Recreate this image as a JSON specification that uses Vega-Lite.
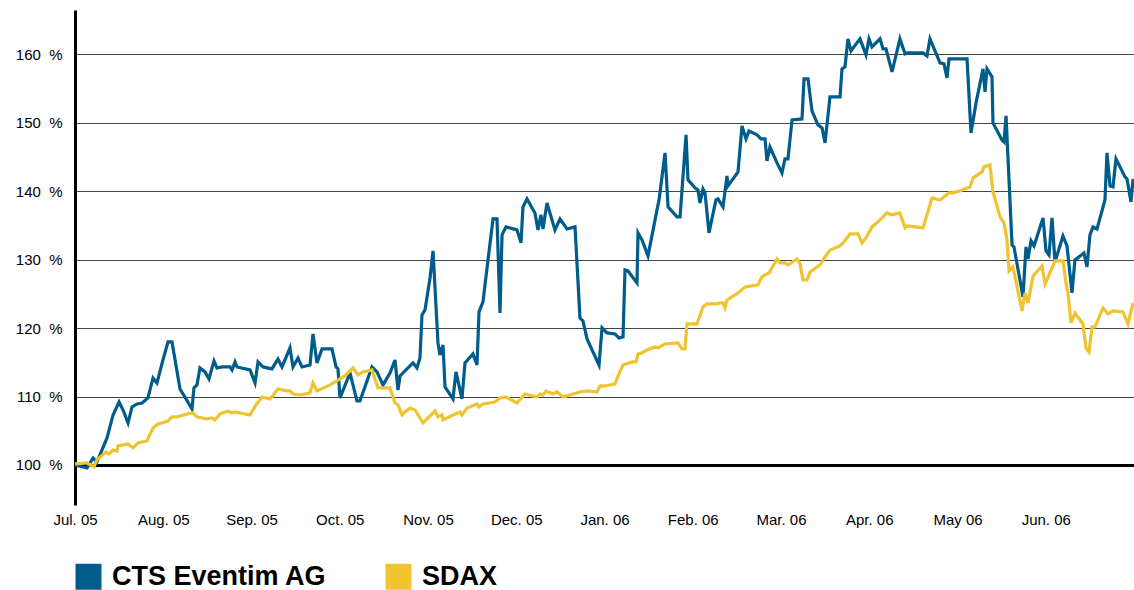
{
 "$schema": "https://vega.github.io/schema/vega-lite/v6.json",
 "width": 1059, "height": 495,
 "autosize": {"type": "none"},
 "padding": {"left": 75, "top": 10, "right": 0, "bottom": 85},
 "background": "white",
 "config": {"view": {"stroke": null}, "font": "Liberation Sans"},
 "encoding": {
  "x": {"field": "t", "type": "quantitative", "scale": {"domain": [0, 12], "nice": false, "zero": false},
   "axis": {"values": [0,1,2,3,4,5,6,7,8,9,10,11], "labelExpr": "['Jul. 05','Aug. 05','Sep. 05','Oct. 05','Nov. 05','Dec. 05','Jan. 06','Feb. 06','Mar. 06','Apr. 06','May 06','Jun. 06'][datum.value]", "domain": false, "ticks": false, "grid": false, "title": null, "labelFontSize": 15, "labelPadding": 7, "labelDx": 9, "labelColor": "#000", "labelFlush": false, "labelOverlap": false, "labelFont": "Liberation Sans"}},
  "y": {"field": "v", "type": "quantitative", "scale": {"domain": [94.15, 166.5], "nice": false, "zero": false},
   "axis": {"values": [100,110,120,130,140,150,160], "labelExpr": "datum.value + '\u00a0\u00a0%'", "title": null, "ticks": false, "domain": true, "domainColor": "#000", "domainWidth": 3, "grid": true, "gridColor": {"condition": {"test": "datum.value === 100", "value": "#000"}, "value": "#444"}, "gridWidth": {"condition": {"test": "datum.value === 100", "value": 3}, "value": 1}, "labelFontSize": 15, "labelColor": "#000", "labelPadding": 13, "labelFont": "Liberation Sans"}}
 },
 "layer": [
  {"data": {"values": [
{"t":0,"v":100},{"t":0.136,"v":99.56},{"t":0.204,"v":101.02},{"t":0.249,"v":100.44},{"t":0.363,"v":103.95},{"t":0.431,"v":107.31},{"t":0.499,"v":109.21},{"t":0.544,"v":108.04},{"t":0.601,"v":106.14},{"t":0.646,"v":108.48},{"t":0.703,"v":108.92},{"t":0.76,"v":109.06},{"t":0.827,"v":109.8},{"t":0.884,"v":112.72},{"t":0.929,"v":111.99},{"t":0.997,"v":115.35},{"t":1.054,"v":117.98},{"t":1.099,"v":117.98},{"t":1.19,"v":111.11},{"t":1.326,"v":108.19},{"t":1.348,"v":111.26},{"t":1.382,"v":111.7},{"t":1.416,"v":114.18},{"t":1.473,"v":113.6},{"t":1.518,"v":112.57},{"t":1.575,"v":115.2},{"t":1.609,"v":114.18},{"t":1.666,"v":114.33},{"t":1.756,"v":114.33},{"t":1.779,"v":113.89},{"t":1.813,"v":115.06},{"t":1.836,"v":114.33},{"t":1.983,"v":113.89},{"t":2.04,"v":111.99},{"t":2.074,"v":115.06},{"t":2.13,"v":114.33},{"t":2.232,"v":114.04},{"t":2.3,"v":115.5},{"t":2.346,"v":114.33},{"t":2.436,"v":117.11},{"t":2.47,"v":114.33},{"t":2.527,"v":115.64},{"t":2.572,"v":114.33},{"t":2.663,"v":114.62},{"t":2.697,"v":119.15},{"t":2.742,"v":114.91},{"t":2.799,"v":116.96},{"t":2.912,"v":116.96},{"t":2.958,"v":114.33},{"t":2.98,"v":114.04},{"t":3.003,"v":109.8},{"t":3.116,"v":113.45},{"t":3.195,"v":109.36},{"t":3.229,"v":109.36},{"t":3.365,"v":114.33},{"t":3.422,"v":113.6},{"t":3.49,"v":111.7},{"t":3.569,"v":113.45},{"t":3.626,"v":115.35},{"t":3.66,"v":110.96},{"t":3.683,"v":113.01},{"t":3.83,"v":114.91},{"t":3.875,"v":114.18},{"t":3.909,"v":115.64},{"t":3.932,"v":121.93},{"t":3.966,"v":122.66},{"t":4.023,"v":127.34},{"t":4.057,"v":131.29},{"t":4.113,"v":117.84},{"t":4.136,"v":116.08},{"t":4.17,"v":117.54},{"t":4.193,"v":111.4},{"t":4.283,"v":109.65},{"t":4.317,"v":113.6},{"t":4.385,"v":109.65},{"t":4.419,"v":114.91},{"t":4.51,"v":116.23},{"t":4.555,"v":114.62},{"t":4.578,"v":122.37},{"t":4.623,"v":123.83},{"t":4.68,"v":129.97},{"t":4.737,"v":135.96},{"t":4.782,"v":135.96},{"t":4.816,"v":122.22},{"t":4.839,"v":133.63},{"t":4.884,"v":134.8},{"t":5.008,"v":134.36},{"t":5.054,"v":132.46},{"t":5.076,"v":137.72},{"t":5.122,"v":138.89},{"t":5.212,"v":136.84},{"t":5.246,"v":134.36},{"t":5.28,"v":136.55},{"t":5.303,"v":134.5},{"t":5.348,"v":138.3},{"t":5.439,"v":134.36},{"t":5.496,"v":135.96},{"t":5.575,"v":134.5},{"t":5.666,"v":134.8},{"t":5.722,"v":121.49},{"t":5.756,"v":121.05},{"t":5.802,"v":118.42},{"t":5.938,"v":114.62},{"t":5.972,"v":120.03},{"t":6.028,"v":119.3},{"t":6.119,"v":119.15},{"t":6.164,"v":118.57},{"t":6.21,"v":118.71},{"t":6.232,"v":128.51},{"t":6.266,"v":128.36},{"t":6.368,"v":126.61},{"t":6.38,"v":133.92},{"t":6.425,"v":132.89},{"t":6.493,"v":130.56},{"t":6.595,"v":137.28},{"t":6.618,"v":138.74},{"t":6.686,"v":145.61},{"t":6.72,"v":137.72},{"t":6.822,"v":136.26},{"t":6.856,"v":136.26},{"t":6.924,"v":148.25},{"t":6.946,"v":141.67},{"t":7.025,"v":140.5},{"t":7.059,"v":140.2},{"t":7.082,"v":138.3},{"t":7.116,"v":140.35},{"t":7.139,"v":139.77},{"t":7.184,"v":133.92},{"t":7.263,"v":138.74},{"t":7.286,"v":138.89},{"t":7.343,"v":137.72},{"t":7.388,"v":142.25},{"t":7.399,"v":140.79},{"t":7.513,"v":142.84},{"t":7.558,"v":149.56},{"t":7.603,"v":147.66},{"t":7.637,"v":148.83},{"t":7.728,"v":148.25},{"t":7.773,"v":147.66},{"t":7.819,"v":147.66},{"t":7.841,"v":144.44},{"t":7.875,"v":146.49},{"t":7.955,"v":144.15},{"t":8.011,"v":142.69},{"t":8.045,"v":144.74},{"t":8.079,"v":144.74},{"t":8.125,"v":150.44},{"t":8.238,"v":150.58},{"t":8.261,"v":156.43},{"t":8.306,"v":156.43},{"t":8.351,"v":151.75},{"t":8.419,"v":149.71},{"t":8.465,"v":149.27},{"t":8.499,"v":147.08},{"t":8.555,"v":153.8},{"t":8.669,"v":153.8},{"t":8.691,"v":157.89},{"t":8.725,"v":158.19},{"t":8.759,"v":162.28},{"t":8.793,"v":160.53},{"t":8.895,"v":162.28},{"t":8.963,"v":159.94},{"t":8.997,"v":162.28},{"t":9.031,"v":161.11},{"t":9.122,"v":162.28},{"t":9.156,"v":160.82},{"t":9.19,"v":160.82},{"t":9.258,"v":157.46},{"t":9.348,"v":162.28},{"t":9.405,"v":160.09},{"t":9.428,"v":160.23},{"t":9.609,"v":160.23},{"t":9.654,"v":159.8},{"t":9.688,"v":162.28},{"t":9.802,"v":158.77},{"t":9.847,"v":158.63},{"t":9.881,"v":156.58},{"t":9.904,"v":159.36},{"t":10.108,"v":159.36},{"t":10.153,"v":148.54},{"t":10.21,"v":152.92},{"t":10.289,"v":157.89},{"t":10.312,"v":154.53},{"t":10.334,"v":157.89},{"t":10.391,"v":156.73},{"t":10.402,"v":150},{"t":10.504,"v":147.51},{"t":10.527,"v":147.22},{"t":10.55,"v":151.02},{"t":10.618,"v":132.16},{"t":10.64,"v":131.87},{"t":10.742,"v":124.56},{"t":10.776,"v":131.87},{"t":10.799,"v":130.12},{"t":10.833,"v":132.75},{"t":10.867,"v":132.02},{"t":10.969,"v":136.11},{"t":11.003,"v":131.29},{"t":11.037,"v":130.7},{"t":11.071,"v":136.11},{"t":11.105,"v":129.68},{"t":11.195,"v":133.48},{"t":11.241,"v":132.02},{"t":11.297,"v":125.15},{"t":11.331,"v":129.97},{"t":11.433,"v":130.99},{"t":11.467,"v":128.95},{"t":11.501,"v":133.63},{"t":11.535,"v":134.8},{"t":11.581,"v":134.5},{"t":11.671,"v":138.74},{"t":11.694,"v":145.61},{"t":11.728,"v":140.79},{"t":11.762,"v":140.64},{"t":11.796,"v":144.74},{"t":11.898,"v":142.11},{"t":11.921,"v":141.81},{"t":11.966,"v":138.45},{"t":11.989,"v":141.81}
  ]},
   "mark": {"type": "line", "strokeWidth": 3.2},
   "encoding": {"color": {"datum": "CTS Eventim AG", "type": "nominal",
    "scale": {"domain": ["CTS Eventim AG", "SDAX"], "range": ["#005c8a", "#f0c330"]},
    "legend": {"orient": "none", "legendX": 0, "legendY": 553, "direction": "horizontal", "title": null, "symbolType": "square", "symbolSize": 676, "symbolStrokeWidth": 0, "labelFontSize": 27, "labelFontWeight": "bold", "labelFont": "Liberation Sans", "labelColor": "#000", "labelOffset": 10, "columnPadding": 58, "labelLimit": 400,
     "encode": {"symbols": {"update": {"fill": {"scale": "color", "field": "value"}, "opacity": {"value": 1}}}}}}}
  },
  {"data": {"values": [
{"t":0,"v":100.15},{"t":0.136,"v":100.29},{"t":0.215,"v":99.71},{"t":0.249,"v":100.73},{"t":0.351,"v":101.9},{"t":0.385,"v":101.61},{"t":0.431,"v":102.19},{"t":0.476,"v":102.05},{"t":0.487,"v":102.78},{"t":0.601,"v":103.07},{"t":0.657,"v":102.49},{"t":0.714,"v":103.22},{"t":0.816,"v":103.51},{"t":0.884,"v":105.41},{"t":0.941,"v":105.99},{"t":1.054,"v":106.43},{"t":1.099,"v":107.02},{"t":1.156,"v":107.02},{"t":1.19,"v":107.16},{"t":1.28,"v":107.46},{"t":1.337,"v":107.6},{"t":1.382,"v":107.02},{"t":1.496,"v":106.73},{"t":1.552,"v":106.87},{"t":1.586,"v":106.58},{"t":1.643,"v":107.46},{"t":1.734,"v":107.89},{"t":1.779,"v":107.6},{"t":1.813,"v":107.75},{"t":1.983,"v":107.31},{"t":2.051,"v":108.77},{"t":2.119,"v":109.94},{"t":2.21,"v":109.65},{"t":2.3,"v":111.11},{"t":2.402,"v":110.82},{"t":2.436,"v":110.82},{"t":2.47,"v":110.38},{"t":2.55,"v":110.23},{"t":2.663,"v":110.53},{"t":2.697,"v":111.99},{"t":2.742,"v":110.82},{"t":2.89,"v":111.7},{"t":2.946,"v":112.13},{"t":3.059,"v":113.01},{"t":3.15,"v":114.18},{"t":3.207,"v":113.16},{"t":3.263,"v":113.6},{"t":3.365,"v":113.89},{"t":3.433,"v":111.26},{"t":3.479,"v":111.26},{"t":3.569,"v":111.26},{"t":3.626,"v":109.06},{"t":3.66,"v":108.77},{"t":3.705,"v":107.31},{"t":3.739,"v":107.75},{"t":3.796,"v":108.33},{"t":3.853,"v":108.04},{"t":3.943,"v":106.14},{"t":4.079,"v":107.89},{"t":4.113,"v":107.02},{"t":4.159,"v":107.31},{"t":4.17,"v":106.58},{"t":4.283,"v":107.31},{"t":4.363,"v":107.75},{"t":4.385,"v":107.31},{"t":4.442,"v":108.33},{"t":4.555,"v":108.92},{"t":4.578,"v":108.48},{"t":4.623,"v":108.92},{"t":4.759,"v":109.21},{"t":4.816,"v":109.8},{"t":4.884,"v":109.94},{"t":5.008,"v":109.06},{"t":5.099,"v":110.38},{"t":5.235,"v":109.94},{"t":5.269,"v":110.38},{"t":5.303,"v":110.23},{"t":5.337,"v":110.82},{"t":5.416,"v":110.38},{"t":5.462,"v":110.67},{"t":5.53,"v":109.94},{"t":5.643,"v":110.38},{"t":5.722,"v":110.67},{"t":5.802,"v":110.82},{"t":5.915,"v":110.67},{"t":5.949,"v":111.55},{"t":6.006,"v":111.55},{"t":6.119,"v":111.84},{"t":6.153,"v":113.01},{"t":6.21,"v":114.62},{"t":6.312,"v":115.06},{"t":6.357,"v":115.06},{"t":6.38,"v":116.23},{"t":6.425,"v":116.37},{"t":6.482,"v":116.81},{"t":6.572,"v":117.25},{"t":6.606,"v":117.11},{"t":6.686,"v":117.69},{"t":6.833,"v":117.84},{"t":6.878,"v":116.96},{"t":6.912,"v":116.96},{"t":6.935,"v":120.61},{"t":7.048,"v":120.61},{"t":7.116,"v":123.1},{"t":7.161,"v":123.54},{"t":7.275,"v":123.54},{"t":7.309,"v":123.68},{"t":7.343,"v":123.68},{"t":7.365,"v":122.95},{"t":7.388,"v":124.12},{"t":7.479,"v":124.85},{"t":7.513,"v":125.15},{"t":7.592,"v":126.02},{"t":7.739,"v":126.32},{"t":7.785,"v":127.49},{"t":7.819,"v":127.78},{"t":7.864,"v":128.07},{"t":7.955,"v":130.12},{"t":7.989,"v":129.53},{"t":8.045,"v":129.53},{"t":8.079,"v":129.24},{"t":8.181,"v":130.12},{"t":8.215,"v":129.39},{"t":8.249,"v":127.05},{"t":8.295,"v":127.05},{"t":8.329,"v":128.22},{"t":8.442,"v":129.24},{"t":8.499,"v":130.41},{"t":8.555,"v":131.43},{"t":8.669,"v":132.02},{"t":8.703,"v":132.46},{"t":8.782,"v":133.77},{"t":8.873,"v":133.77},{"t":8.918,"v":132.46},{"t":8.963,"v":133.19},{"t":9.031,"v":134.8},{"t":9.099,"v":135.53},{"t":9.201,"v":136.84},{"t":9.258,"v":136.55},{"t":9.348,"v":136.84},{"t":9.405,"v":134.65},{"t":9.428,"v":134.94},{"t":9.609,"v":134.65},{"t":9.711,"v":139.04},{"t":9.802,"v":138.74},{"t":9.904,"v":139.77},{"t":9.949,"v":139.77},{"t":10.028,"v":140.06},{"t":10.108,"v":140.5},{"t":10.142,"v":140.64},{"t":10.176,"v":141.96},{"t":10.278,"v":142.84},{"t":10.3,"v":143.57},{"t":10.368,"v":143.86},{"t":10.402,"v":139.91},{"t":10.482,"v":136.26},{"t":10.527,"v":135.38},{"t":10.561,"v":132.89},{"t":10.584,"v":128.36},{"t":10.629,"v":128.95},{"t":10.731,"v":122.51},{"t":10.765,"v":125.15},{"t":10.799,"v":123.68},{"t":10.856,"v":127.63},{"t":10.958,"v":129.09},{"t":10.992,"v":126.46},{"t":11.082,"v":129.09},{"t":11.105,"v":129.82},{"t":11.195,"v":129.82},{"t":11.229,"v":126.61},{"t":11.252,"v":125.15},{"t":11.286,"v":120.76},{"t":11.331,"v":122.22},{"t":11.422,"v":120.61},{"t":11.456,"v":117.11},{"t":11.49,"v":116.52},{"t":11.524,"v":120.18},{"t":11.558,"v":120.18},{"t":11.649,"v":122.95},{"t":11.705,"v":122.08},{"t":11.762,"v":122.51},{"t":11.875,"v":122.37},{"t":11.932,"v":120.61},{"t":11.989,"v":123.68}
  ]},
   "mark": {"type": "line", "strokeWidth": 3.2},
   "encoding": {"color": {"datum": "SDAX", "type": "nominal"}}
  }
 ]
}
